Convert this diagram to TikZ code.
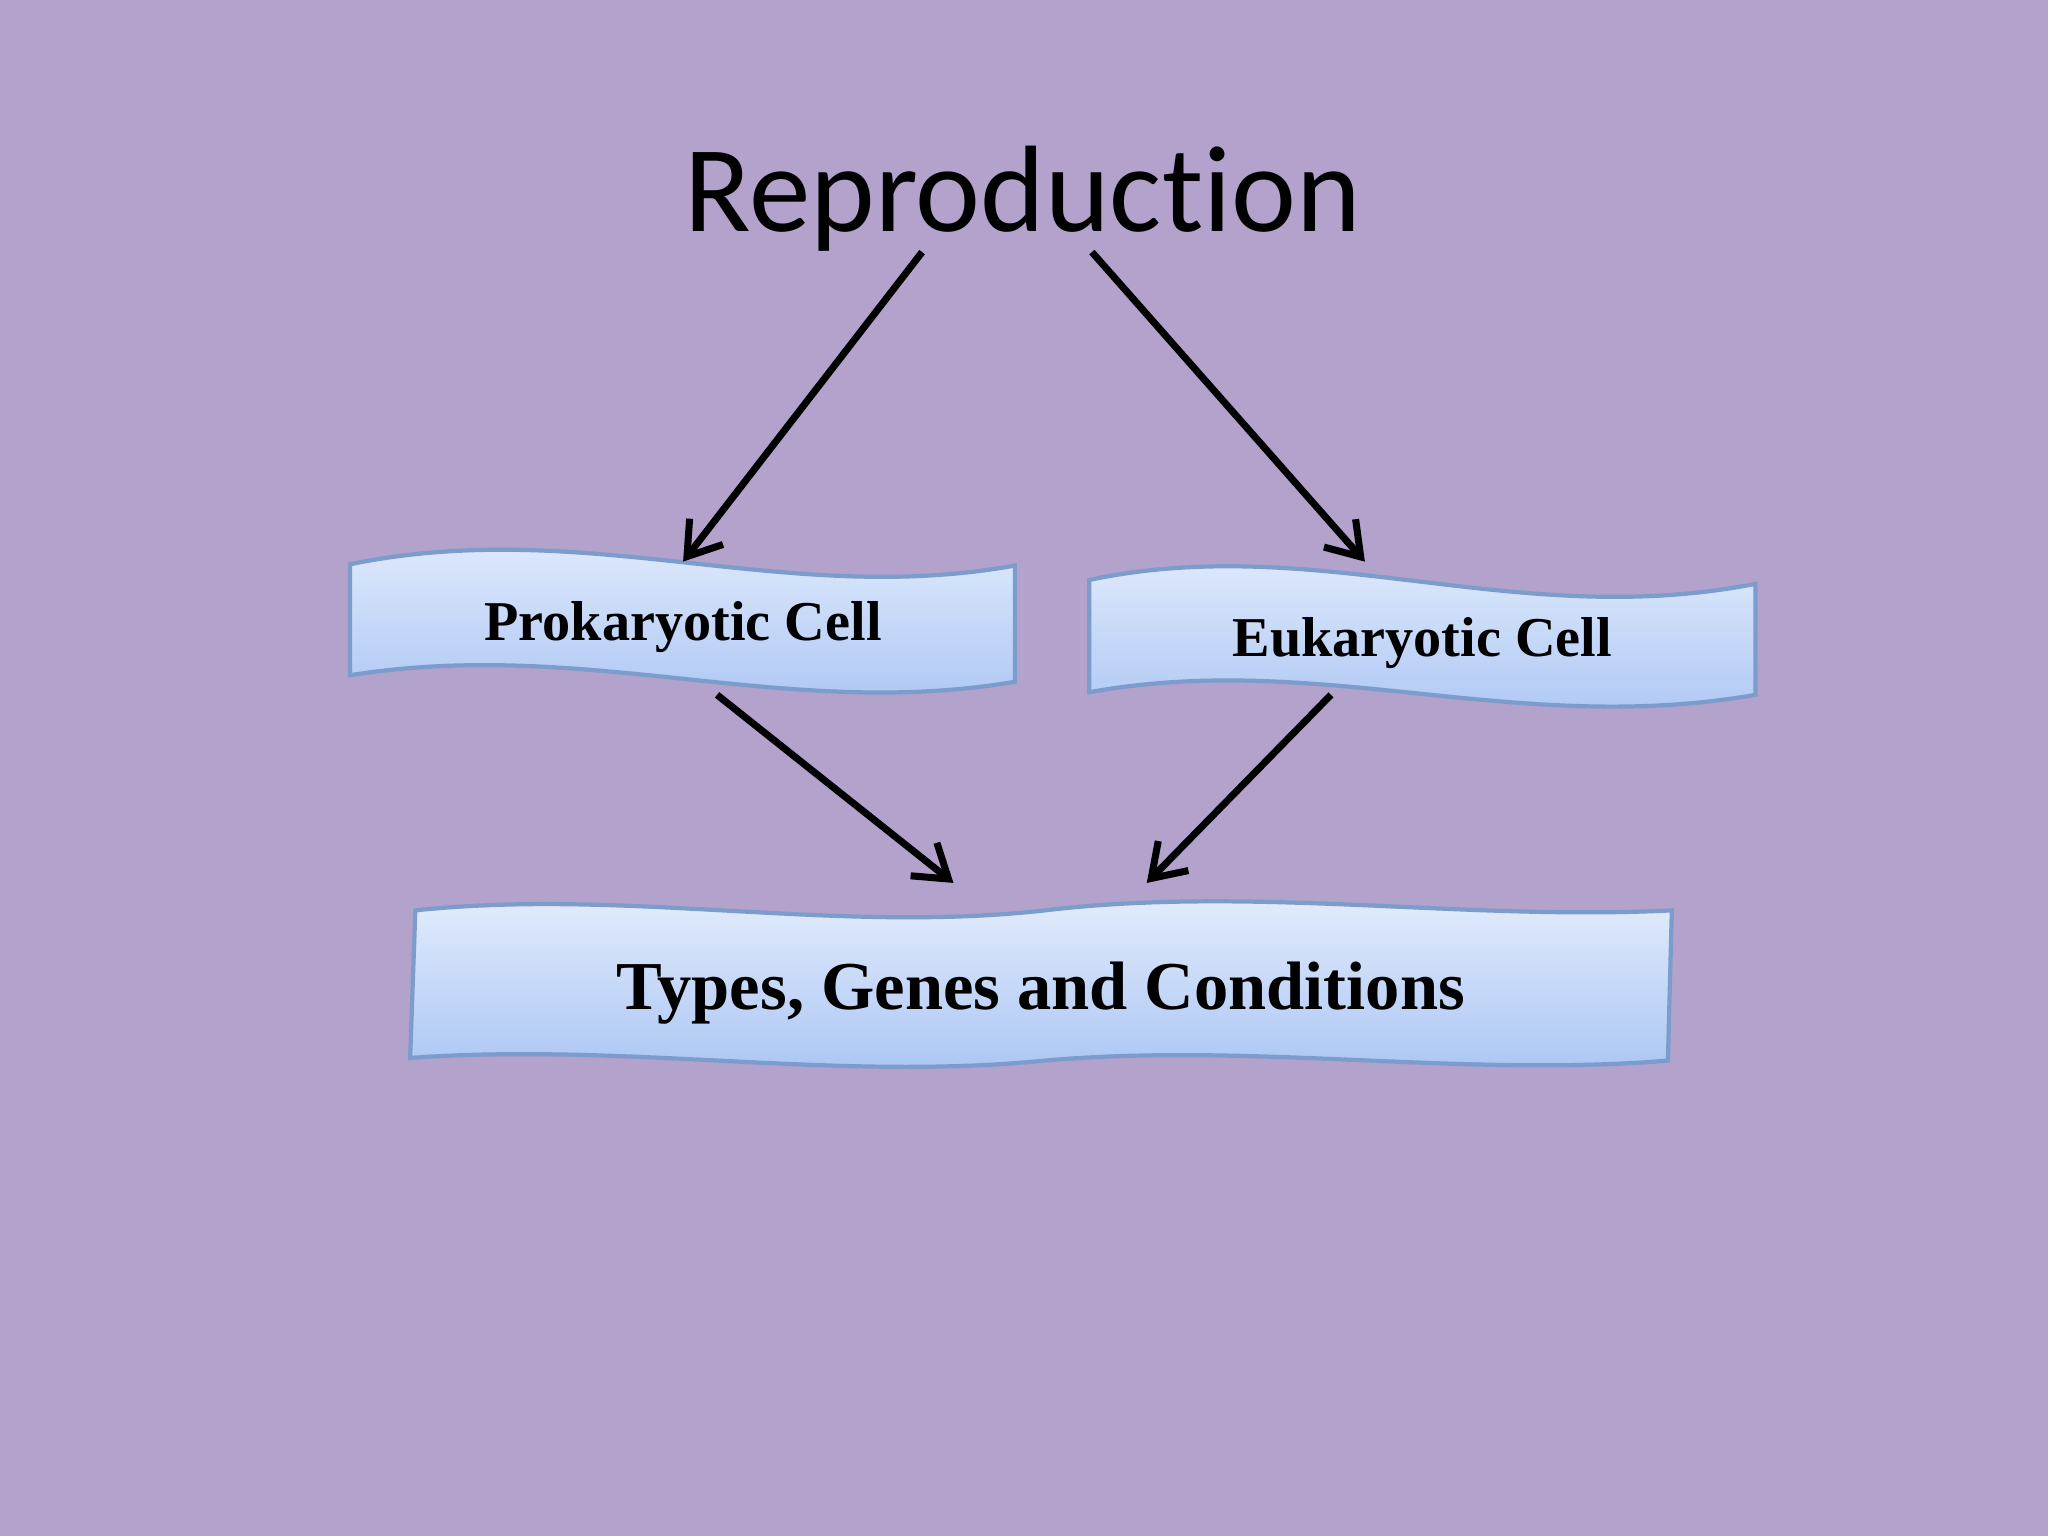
\documentclass[tikz,border=0pt]{standalone}
\usepackage{fontspec}
\setmainfont{Liberation Serif}
\newfontfamily\titlefont[Ligatures={NoCommon,NoRare,NoDiscretionary}]{Carlito}
\usetikzlibrary{arrows.meta}
\definecolor{bg}{HTML}{B3A2CC}
\definecolor{boxtop}{HTML}{E6EEFC}
\definecolor{boxbot}{HTML}{A8C4F4}
\definecolor{boxline}{HTML}{7C9CCB}
\tikzset{
  wave/.style={top color=boxtop, bottom color=boxbot, draw=boxline, line width=1.2pt},
  arr/.style={line width=2pt, -{Straight Barb[length=9pt,width=12pt,line width=2pt]}},
  lbl/.style={font=\bfseries\fontsize{16}{18}\selectfont},
}
\begin{document}
\begin{tikzpicture}[x=0.01306cm,y=-0.01306cm]
\fill[bg] (0,0) rectangle (1568,1176);
\useasboundingbox (0,0) rectangle (1568,1176);
\node[font=\titlefont\fontsize{35}{40}\selectfont] (title) at (783,152) {Reproduction};
% boxes
\path[wave] (268,432) .. controls (450,395) and (600,465) .. (777,433) -- (777,522)
  .. controls (600,552) and (450,488) .. (268,517) -- cycle;
\path[wave] (834,444) .. controls (1010,407) and (1160,483) .. (1344,447) -- (1344,532)
  .. controls (1160,564) and (1010,498) .. (834,530) -- cycle;
\path[wave] (318,697) .. controls (480,680) and (640,715) .. (800,697)
  .. controls (960,678) and (1120,705) .. (1280,697) -- (1277,812)
  .. controls (1120,825) and (960,798) .. (800,812)
  .. controls (640,828) and (480,798) .. (314,810) -- cycle;
\node[lbl] (pro) at (523,480) {Prokaryotic Cell};
\node[lbl] (eu) at (1089,492) {Eukaryotic Cell};
\node[font=\bfseries\fontsize{19.5}{23}\selectfont] (tgc) at (797,760) {Types, Genes and Conditions};
% arrow endpoints
\coordinate (a1s) at (706,193); \coordinate (a1e) at (523,430);
\coordinate (a2s) at (836,193); \coordinate (a2e) at (1045,430);
\coordinate (a3s) at (549,532); \coordinate (a3e) at (730,676);
\coordinate (a4s) at (1019,532); \coordinate (a4e) at (878,676);
\draw[arr] (a1s) -- (a1e);
\draw[arr] (a2s) -- (a2e);
\draw[arr] (a3s) -- (a3e);
\draw[arr] (a4s) -- (a4e);
\end{tikzpicture}
\end{document}
